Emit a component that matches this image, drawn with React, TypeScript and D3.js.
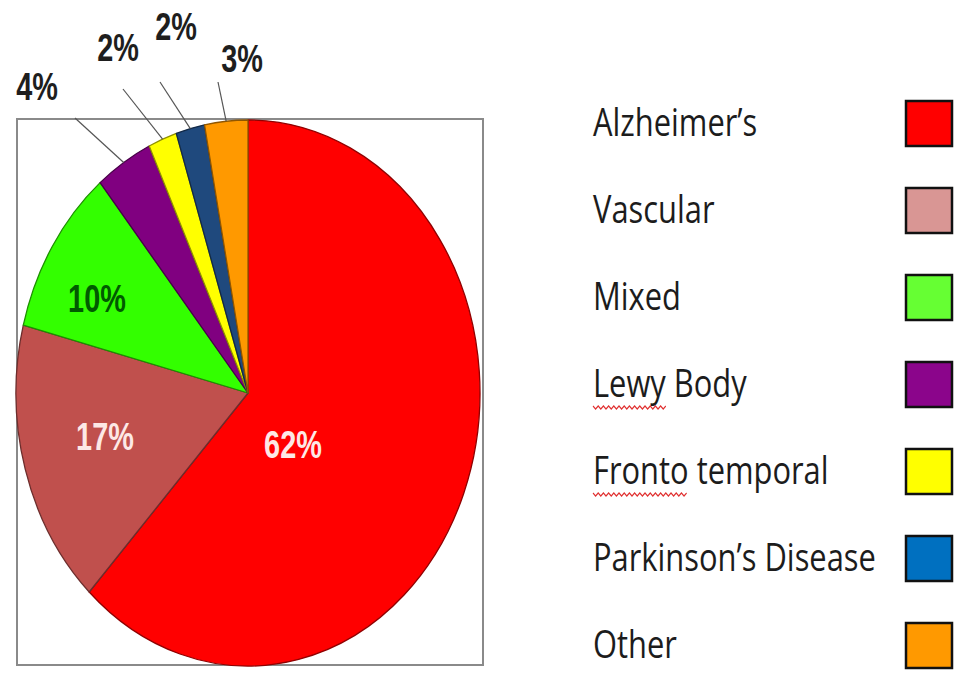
import React, { useRef, useEffect } from 'react';
import * as d3 from 'd3';

// chart data
const categories = ['Alzheimer’s', 'Vascular', 'Mixed', 'Lewy Body', 'Fronto temporal', 'Parkinson’s Disease', 'Other'];
const shares = [62, 17, 10, 4, 2, 2, 3];
const sliceColors = ['#ff0000', '#c0504d', '#33ff00', '#800080', '#ffff00', '#1f497d', '#ff9900'];
const legendColors = ['#ff0000', '#d99694', '#66ff33', '#8b058b', '#ffff00', '#0070c0', '#ff9900'];
// words flagged by the spell checker in the legend
const flaggedWords = ['', '', '', 'Lewy', 'Fronto', '', ''];

// layout
const CX = 248;
const CY = 393;
const RX = 232;
const RY = 273;
// label spots relative to pie centre (Excel's own placement)
const insideLabelAt: Record<number, [number, number]> = {
  0: [45, 51],
  1: [-143, 43],
  2: [-151, -95],
};
const outsideLabelAt: Record<number, { label: [number, number]; end: [number, number] }> = {
  3: { label: [-211, -307], end: [-173, -275] },
  4: { label: [-130, -346], end: [-125, -304] },
  5: { label: [-72, -367], end: [-88, -311] },
  6: { label: [-6, -335], end: [-30, -311] },
};

const App: React.FC = () => {
  const ref = useRef<SVGSVGElement | null>(null);

  useEffect(() => {
    if (!ref.current) return;
    const svg = d3.select(ref.current);
    svg.selectAll('*').remove();

    // frame
    svg.append('rect')
      .attr('x', 17)
      .attr('y', 119)
      .attr('width', 466)
      .attr('height', 546)
      .attr('fill', 'none')
      .attr('stroke', '#8a8a8a')
      .attr('stroke-width', 2);

    const pie = d3.pie<number>().sort(null).value(d => d);
    const arcs = pie(shares);
    const arc = d3.arc<d3.PieArcDatum<number>>().innerRadius(0).outerRadius(RY);
    const edge = d3.arc<d3.PieArcDatum<number>>().innerRadius(RY).outerRadius(RY);
    const sx = RX / RY;

    const pieG = svg.append('g')
      .attr('transform', `translate(${CX},${CY}) scale(${sx},1)`);

    pieG.selectAll('path')
      .data(arcs)
      .join('path')
      .attr('d', arc)
      .attr('fill', (d, i) => sliceColors[i])
      .attr('stroke', (d, i) => d3.color(sliceColors[i])!.darker(1.6).formatHex())
      .attr('stroke-width', 1.3)
      .attr('vector-effect', 'non-scaling-stroke')
      .attr('stroke-linejoin', 'round');

    const labelFont = '"Liberation Sans", Arial, sans-serif';
    const textSx = 0.74;

    // inside labels
    arcs.forEach((a, i) => {
      const pos = insideLabelAt[i];
      if (!pos) return;
      svg.append('text')
        .attr('transform', `translate(${CX + pos[0]},${CY + pos[1]}) scale(${textSx},1)`)
        .attr('text-anchor', 'middle')
        .attr('dy', '0.36em')
        .attr('font-family', labelFont)
        .attr('font-weight', 'bold')
        .attr('font-size', 39)
        .attr('fill', i === 2 ? '#005a00' : '#fde8e6')
        .text(`${shares[i]}%`);
    });

    // callouts for small slices
    arcs.forEach((a, i) => {
      const o = outsideLabelAt[i];
      if (!o) return;
      const [ex, ey] = edge.centroid(a);
      svg.append('line')
        .attr('x1', CX + ex * sx)
        .attr('y1', CY + ey)
        .attr('x2', CX + o.end[0])
        .attr('y2', CY + o.end[1])
        .attr('stroke', '#555')
        .attr('stroke-width', 1.2);
      svg.append('text')
        .attr('transform', `translate(${CX + o.label[0]},${CY + o.label[1]}) scale(${textSx},1)`)
        .attr('text-anchor', 'middle')
        .attr('dy', '0.36em')
        .attr('font-family', labelFont)
        .attr('font-weight', 'bold')
        .attr('font-size', 39)
        .attr('fill', '#1e1e1e')
        .text(`${shares[i]}%`);
    });

    // legend
    const row = d3.scalePoint<string>().domain(categories).range([123, 645]);
    const legendText = svg.append('g');
    const texts = legendText.selectAll('text')
      .data(categories)
      .join('text')
      .attr('x', 0)
      .attr('y', d => (row(d) || 0) + 13.5)
      .attr('font-family', '"Open Sans", "Noto Sans", sans-serif')
      .attr('font-size', 38)
      .attr('fill', '#1c1c1c')
      .text(d => d);

    // squeeze text to match the narrow face of the original
    const longest = d3.max(texts.nodes(), n => (n as SVGTextElement).getComputedTextLength()) || 1;
    const lsx = 283 / longest;
    legendText.attr('transform', `translate(593,0) scale(${lsx},1)`);

    // red wavy spell-check underline
    texts.each(function (d, i) {
      const word = flaggedWords[i];
      if (!word) return;
      const el = this as SVGTextElement;
      const w = el.getSubStringLength(0, word.length);
      const y0 = (row(d) || 0) + 23;
      const step = 3.2;
      const pts: [number, number][] = [];
      for (let k = 0; k * step <= w; k++) pts.push([k * step, y0 + (k % 2 ? 2 : -1)]);
      legendText.append('path')
        .attr('d', d3.line()(pts))
        .attr('fill', 'none')
        .attr('stroke', '#e03030')
        .attr('stroke-width', 1.3);
    });

    svg.append('g')
      .selectAll('rect')
      .data(categories)
      .join('rect')
      .attr('x', 906)
      .attr('y', d => (row(d) || 0) - 22)
      .attr('width', 46)
      .attr('height', 45)
      .attr('fill', (d, i) => legendColors[i])
      .attr('stroke', '#111')
      .attr('stroke-width', 2.5);
  }, []);

  return (
    <svg
      ref={ref}
      width={965}
      height={673}
      style={{ position: 'absolute', left: 0, top: 0, background: '#fff' }}
    />
  );
};

export default App;
